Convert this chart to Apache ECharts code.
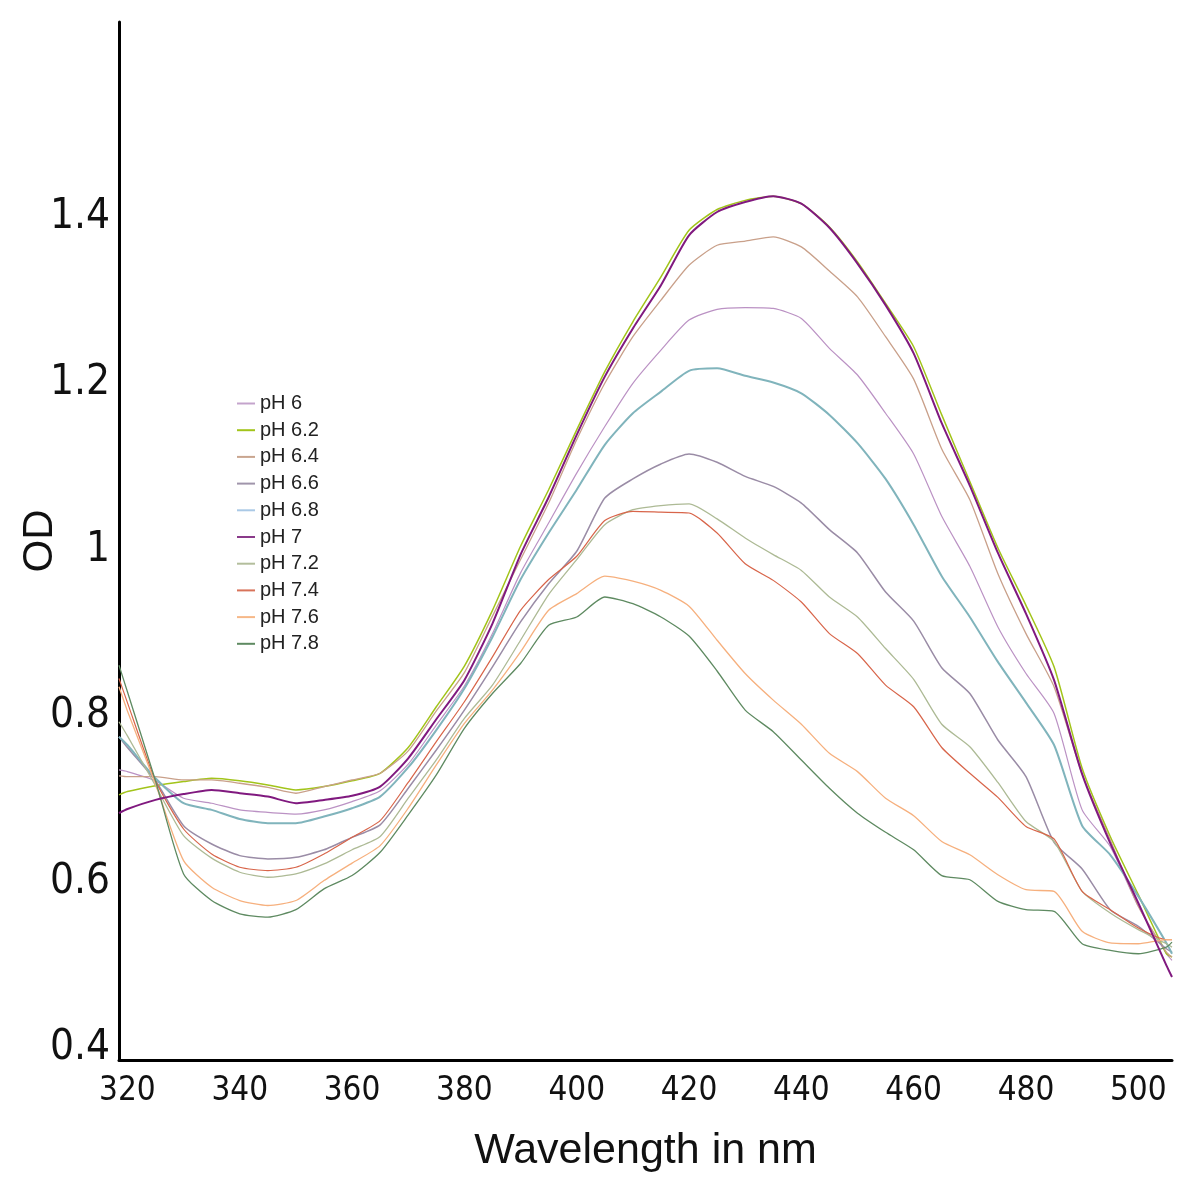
<!DOCTYPE html>
<html>
<head>
<meta charset="utf-8">
<script src="https://cdn.jsdelivr.net/npm/echarts@6/dist/echarts.min.js"></script>
<style>
html,body{margin:0;padding:0;background:#fff;}
#chart{width:1200px;height:1200px;}
</style>
</head>
<body>
<div id="chart"></div>
<script>
// Wavelength samples (nm)
const wavelengths = [318.5,320,325,330,335,340,345,350,355,360,365,370,375,380,385,390,395,400,405,410,415,420,425,430,435,440,445,450,455,460,465,470,475,480,485,490,495,500,505,506];

// OD values per pH
const pH6   = [0.735,0.733,0.722,0.701,0.695,0.687,0.684,0.682,0.687,0.697,0.710,0.742,0.789,0.836,0.899,0.972,1.032,1.092,1.148,1.200,1.240,1.276,1.289,1.291,1.290,1.278,1.242,1.210,1.164,1.115,1.040,0.980,0.907,0.851,0.803,0.687,0.643,0.571,0.514,0.506];
const pH6_2 = [0.705,0.709,0.716,0.721,0.725,0.722,0.717,0.711,0.715,0.722,0.731,0.762,0.811,0.860,0.927,1.004,1.072,1.144,1.214,1.274,1.328,1.384,1.409,1.420,1.425,1.416,1.388,1.346,1.296,1.244,1.162,1.082,1.002,0.933,0.859,0.737,0.655,0.585,0.514,0.510];
const pH6_4 = [0.728,0.727,0.727,0.723,0.723,0.719,0.714,0.707,0.715,0.723,0.731,0.758,0.806,0.852,0.920,0.988,1.056,1.132,1.200,1.256,1.300,1.342,1.366,1.371,1.376,1.364,1.335,1.304,1.256,1.205,1.121,1.060,0.971,0.899,0.835,0.730,0.651,0.571,0.516,0.510];
const pH6_6 = [0.775,0.762,0.722,0.668,0.646,0.632,0.628,0.630,0.639,0.654,0.669,0.713,0.759,0.807,0.859,0.913,0.959,0.998,1.062,1.085,1.103,1.115,1.105,1.088,1.076,1.056,1.024,0.996,0.949,0.914,0.858,0.827,0.771,0.727,0.648,0.616,0.567,0.547,0.520,0.516];
const pH6_8 = [0.775,0.765,0.725,0.695,0.687,0.676,0.671,0.671,0.679,0.689,0.703,0.738,0.783,0.833,0.895,0.964,1.020,1.072,1.126,1.164,1.190,1.215,1.218,1.209,1.201,1.188,1.162,1.128,1.085,1.030,0.968,0.919,0.865,0.816,0.765,0.668,0.633,0.583,0.527,0.514];
const pH7   = [0.683,0.688,0.699,0.706,0.711,0.707,0.703,0.695,0.699,0.704,0.715,0.749,0.796,0.843,0.911,0.994,1.063,1.138,1.208,1.266,1.318,1.378,1.406,1.418,1.425,1.416,1.387,1.344,1.294,1.236,1.152,1.077,0.996,0.923,0.843,0.730,0.647,0.575,0.500,0.486];
const pH7_2 = [0.793,0.776,0.716,0.656,0.629,0.612,0.606,0.610,0.622,0.639,0.655,0.701,0.747,0.797,0.837,0.891,0.946,0.988,1.030,1.048,1.053,1.055,1.037,1.014,0.994,0.975,0.943,0.919,0.881,0.844,0.790,0.763,0.720,0.673,0.649,0.589,0.563,0.543,0.526,0.522];
const pH7_4 = [0.845,0.816,0.722,0.664,0.634,0.618,0.614,0.618,0.634,0.654,0.674,0.720,0.769,0.817,0.871,0.927,0.964,0.992,1.035,1.046,1.045,1.044,1.020,0.983,0.963,0.937,0.899,0.875,0.837,0.811,0.762,0.731,0.702,0.667,0.652,0.589,0.567,0.545,0.531,0.531];
const pH7_6 = [0.835,0.806,0.718,0.626,0.594,0.578,0.572,0.578,0.602,0.623,0.644,0.689,0.741,0.791,0.831,0.877,0.927,0.947,0.968,0.962,0.951,0.932,0.891,0.851,0.819,0.790,0.755,0.733,0.701,0.680,0.649,0.633,0.609,0.591,0.589,0.541,0.527,0.526,0.531,0.531];
const pH7_8 = [0.861,0.829,0.722,0.610,0.578,0.562,0.558,0.567,0.592,0.608,0.636,0.681,0.729,0.785,0.827,0.863,0.909,0.919,0.943,0.935,0.919,0.896,0.854,0.807,0.781,0.747,0.713,0.683,0.660,0.639,0.608,0.603,0.577,0.567,0.565,0.526,0.518,0.514,0.522,0.528];

const seriesNames = ['pH 6','pH 6.2','pH 6.4','pH 6.6','pH 6.8','pH 7','pH 7.2','pH 7.4','pH 7.6','pH 7.8'];
const seriesValues = [pH6,pH6_2,pH6_4,pH6_6,pH6_8,pH7,pH7_2,pH7_4,pH7_6,pH7_8];
const seriesColors = ['#bb92c4','#a2c41a','#c9a08a','#9a8ca6','#80b4bc','#80197f','#adba95','#d8654a','#f6b07e','#5e8a61'];
const seriesWidths = [1.2,1.5,1.3,1.5,2,2,1.3,1.2,1.3,1.3];
const legendColors = ['#c4a4cc','#a2c41a','#c9a58f','#a095ab','#aac9e6','#8a3a8a','#b3be9c','#d8735a','#f6b888','#5e8a61'];

const xTicks = [320,340,360,380,400,420,440,460,480,500];
const yTicks = [0.4,0.6,0.8,1,1.2,1.4];

const labelFont = "'Liberation Sans Narrow', 'DejaVu Sans Condensed', 'Roboto Condensed', Roboto, sans-serif";

const chart = echarts.init(document.getElementById('chart'), null, {renderer:'canvas'});

const series = seriesNames.map((name,k)=>({
  name: name,
  type: 'line',
  showSymbol: false,
  symbol: 'none',
  smooth: 0.2,
  data: wavelengths.map((w,i)=>[w, seriesValues[k][i]]),
  lineStyle: {color: seriesColors[k], width: seriesWidths[k]},
  itemStyle: {color: seriesColors[k]},
  z: 2 + (k===5 ? 1 : 0)
}));

chart.setOption({
  animation: false,
  backgroundColor: '#ffffff',
  grid: {left: 119, right: 28, top: 22, bottom: 140, containLabel: false, outerBoundsMode: 'none'},
  legend: {
    orient: 'vertical',
    left: 232,
    top: 388,
    itemWidth: 18,
    itemHeight: 2,
    itemGap: 5.7,
    icon: 'rect',
    data: seriesNames.map((n,k)=>({name:n, itemStyle:{color: legendColors[k]}})),
    textStyle: {fontFamily: 'Liberation Sans', fontSize: 20, lineHeight: 21, color: '#222', padding:[0,0,0,0]}
  },
  xAxis: {
    type: 'value',
    min: 318.5,
    max: 506,
    name: 'Wavelength in nm',
    nameLocation: 'middle',
    nameGap: 70,
    nameTextStyle: {fontFamily: 'Liberation Sans', fontSize: 43, color: '#111'},
    axisLine: {show: true, onZero: false, lineStyle: {color: '#000', width: 3}},
    axisTick: {show: false},
    splitLine: {show: false},
    axisLabel: {
      customValues: xTicks,
      fontFamily: labelFont,
      fontSize: 33,
      color: '#111',
      margin: 15,
      formatter: v => String(v)
    }
  },
  yAxis: {
    type: 'value',
    min: 0.3862,
    max: 1.6345,
    name: 'OD',
    nameLocation: 'middle',
    nameRotate: 90,
    nameGap: 58,
    nameMoveOverlap: false,
    nameTextStyle: {fontFamily: 'Liberation Sans', fontSize: 42, color: '#111'},
    axisLine: {show: true, onZero: false, lineStyle: {color: '#000', width: 3}},
    axisTick: {show: false},
    splitLine: {show: false},
    axisLabel: {
      customValues: yTicks,
      fontFamily: labelFont,
      fontSize: 42,
      color: '#111',
      margin: 9,
      formatter: v => String(Math.round(v*10)/10)
    }
  },
  series: series
});
</script>
</body>
</html>
